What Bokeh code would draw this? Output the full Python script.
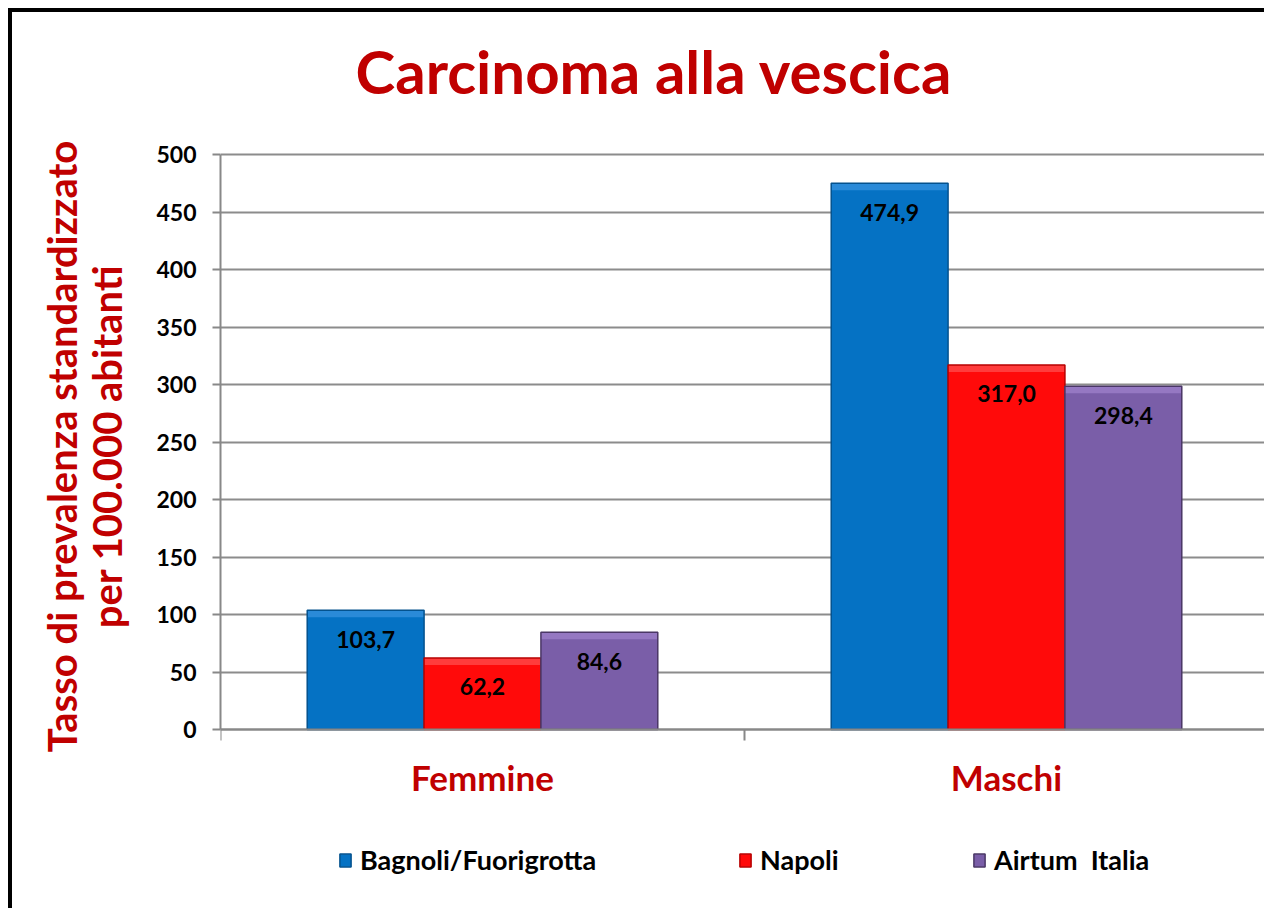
from bokeh.plotting import figure
from bokeh.models import (Range1d, FixedTicker, Legend, LegendItem, ColumnDataSource, Label)
from bokeh.core.properties import value
from bokeh.embed import file_html
from bokeh.resources import INLINE

# ---- data ----
categories = ["Femmine", "Maschi"]
series_names = ["Bagnoli/Fuorigrotta", "Napoli", "Airtum  Italia"]
bagnoli = [103.7, 474.9]
napoli = [62.2, 317.0]
airtum = [84.6, 298.4]
y_ticks = [0, 50, 100, 150, 200, 250, 300, 350, 400, 450, 500]
title_text = "Carcinoma alla vescica"
y_label = "Tasso di prevalenza standardizzato\nper 100.000 abitanti"

# ---- style ----
FONT = "Lato"
RED = "#C00000"
fills = ["#0572C4", "#FF0A0A", "#7A5EA8"]
bevels = ["#2a8ad8", "#ff3c3c", "#9578c2"]
edges = ["#04528e", "#b80000", "#4a3766"]
bar_w = 0.223
offsets = [-bar_w, 0.0, bar_w]
legend_x = [118, 518, 752]

# frame: page y 12..880 ; value 0 -> page 729, 500 -> page 154
px_per_unit = 575 / 500
y_lo = -(880 - 729) / px_per_unit
y_hi = 500 + (154 - 12) / px_per_unit
bevel_h = 7 / px_per_unit

p = figure(width=1256, height=900, output_backend="svg", toolbar_location=None,
           x_range=Range1d(0, len(categories)), y_range=Range1d(y_lo, y_hi),
           min_border_left=208, min_border_right=0, min_border_top=0,
           min_border_bottom=32)
p.styles = {"border-left": "4px solid black", "border-top": "4px solid black",
            "margin-left": "8px", "margin-top": "8px"}
p.outline_line_color = None
p.background_fill_color = "white"
p.border_fill_color = "white"

# title as a label inside the frame
p.add_layout(Label(x=135, y=810, x_units="screen", y_units="screen", text=title_text,
                   text_font=FONT, text_font_style="bold", text_font_size="60px",
                   text_color=RED, text_align="left", text_baseline="alphabetic"))

# y axis
p.yaxis.bounds = (0, 500)
p.yaxis.ticker = FixedTicker(ticks=y_ticks)
p.yaxis.axis_line_color = "#888888"
p.yaxis.axis_line_width = 2
p.yaxis.major_tick_line_color = "#888888"
p.yaxis.major_tick_line_width = 2
p.yaxis.major_tick_out = 8
p.yaxis.major_tick_in = 0
p.yaxis.minor_tick_line_color = None
p.yaxis.major_label_text_font = FONT
p.yaxis.major_label_text_font_style = "bold"
p.yaxis.major_label_text_font_size = "23px"
p.yaxis.major_label_text_color = "black"
p.yaxis.major_label_standoff = 16
p.yaxis.axis_label = y_label
p.yaxis.axis_label_text_font = FONT
p.yaxis.axis_label_text_font_style = "bold"
p.yaxis.axis_label_text_font_size = "40px"
p.yaxis.axis_label_text_color = RED
p.yaxis.axis_label_text_line_height = 0.95
p.yaxis.axis_label_standoff = 22

# x axis, fixed at value 0
centers = [i + 0.5 for i in range(len(categories))]
p.xaxis.fixed_location = 0
p.xaxis.ticker = FixedTicker(ticks=centers, minor_ticks=list(range(len(categories) + 1)))
p.xaxis.major_label_overrides = {c: name for c, name in zip(centers, categories)}
p.xaxis.axis_line_color = "#888888"
p.xaxis.axis_line_width = 2
p.xaxis.major_tick_line_color = None
p.xaxis.major_tick_out = 0
p.xaxis.minor_tick_line_color = "#888888"
p.xaxis.minor_tick_line_width = 2
p.xaxis.minor_tick_out = 11
p.xaxis.minor_tick_in = 0
p.xaxis.major_label_text_font = FONT
p.xaxis.major_label_text_font_style = "bold"
p.xaxis.major_label_text_font_size = "35px"
p.xaxis.major_label_text_color = RED
p.xaxis.major_label_standoff = 15

# grid
p.xgrid.grid_line_color = None
p.ygrid.ticker = FixedTicker(ticks=y_ticks)
p.ygrid.grid_line_color = "#8c8c8c"
p.ygrid.grid_line_width = 2

# bars
all_series = [bagnoli, napoli, airtum]
for k, (vals, name) in enumerate(zip(all_series, series_names)):
    xs = [c + offsets[k] for c in centers]
    src = ColumnDataSource(dict(
        x=xs,
        top=vals,
        left=[x - bar_w / 2 for x in xs],
        right=[x + bar_w / 2 for x in xs],
        bevel_bottom=[v - bevel_h for v in vals],
        label=[f"{v:.1f}".replace(".", ",") for v in vals],
    ))
    r_fill = p.vbar(x="x", top="top", bottom=0, width=bar_w, source=src,
                    fill_color=fills[k], line_color=None)
    p.quad(left="left", right="right", top="top", bottom="bevel_bottom", source=src,
           fill_color=bevels[k], line_color=None)
    r_edge = p.vbar(x="x", top="top", bottom=0, width=bar_w, source=src,
                    fill_color=None, line_color=edges[k], line_width=1.5)
    p.text(x="x", y="top", text="label", source=src, text_align="center",
           text_baseline="middle", y_offset=29, text_font=value(FONT),
           text_font_style="bold", text_font_size="23px", text_color="black")
    lg = Legend(items=[LegendItem(label=name, renderers=[r_fill, r_edge])],
                location=(legend_x[k], 4), orientation="horizontal",
                border_line_color=None, background_fill_alpha=0,
                padding=0, margin=0, glyph_width=14, glyph_height=16,
                label_standoff=8, label_text_font=FONT,
                label_text_font_style="bold", label_text_font_size="27px",
                label_text_color="black")
    p.add_layout(lg, "center")

open("out.html", "w").write(file_html(p, INLINE))
